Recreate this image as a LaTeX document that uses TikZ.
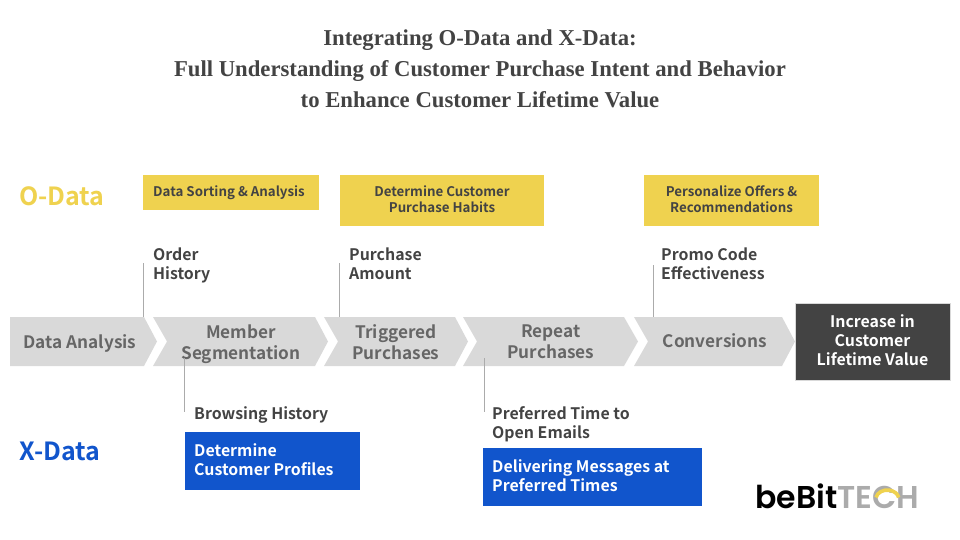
\documentclass[tikz,border=0pt]{standalone}
\usepackage{fontspec}
\setmainfont{Liberation Serif}
\newfontfamily\labelfont{Noto Sans CJK TC}[BoldFont=* Bold]
\newfontfamily\logofont{Poppins}[BoldFont=* SemiBold]
\definecolor{odatayellow}{HTML}{EFD24F}
\definecolor{xdatablue}{HTML}{1155CC}
\definecolor{chevrongray}{HTML}{D9D9D9}
\definecolor{chevrontext}{HTML}{666666}
\definecolor{darktext}{HTML}{434343}
\definecolor{leadergray}{HTML}{ABABAB}
\tikzset{
  stepfill/.style={fill=chevrongray, draw=none},
  steplabel/.style={font=\labelfont\bfseries\fontsize{17.2}{21}\selectfont, text=chevrontext, align=center, inner sep=0pt},
  yellowbox/.style={text=darktext, font=\labelfont\bfseries\fontsize{13.3}{16}\selectfont, align=center, inner sep=0pt},
  bluebox/.style={fill=xdatablue, inner sep=0pt, anchor=north west},
  datalabel/.style={font=\labelfont\bfseries\fontsize{15.9}{19}\selectfont, text=darktext, align=left, inner sep=0pt, anchor=west},
  leader/.style={draw=leadergray, line width=0.9pt},
  logotext/.style={font=\logofont\bfseries\fontsize{31.5}{32}\selectfont, inner sep=0pt, anchor=base west},
}
\begin{document}
\begin{tikzpicture}[x=1pt, y=-1pt]
  \useasboundingbox (0,0) rectangle (960,540);
  % Title
  \node[font=\bfseries\fontsize{22.7}{31}\selectfont, text=darktext, align=center, inner sep=0pt] (title) at (480,69)
    {Integrating O-Data and X-Data:\\ Full Understanding of Customer Purchase Intent and Behavior\\ to Enhance Customer Lifetime Value};
  % Row names
  \node[font=\labelfont\bfseries\fontsize{25}{30}\selectfont, text=odatayellow, inner sep=0pt] (odata) at (62,196) {O-Data};
  \node[font=\labelfont\bfseries\fontsize{25}{30}\selectfont, text=xdatablue, inner sep=0pt] (xdata) at (60,451) {X-Data};
  % Yellow boxes
  \node[fill=odatayellow, minimum width=176pt, minimum height=35pt, inner sep=0pt] (sorting) at (231,192.5) {};
  \node[fill=odatayellow, minimum width=204pt, minimum height=51pt, inner sep=0pt] (habits) at (442,200.5) {};
  \node[fill=odatayellow, minimum width=175pt, minimum height=51pt, inner sep=0pt] (offers) at (731.5,200.5) {};
  \node[yellowbox] (sortingtext) at (229,193) {Data Sorting \& Analysis};
  \node[yellowbox] (habitstext) at (442,199.5) {Determine Customer\\ Purchase Habits};
  \node[yellowbox] (offerstext) at (731.5,199.5) {Personalize Offers \&\\ Recommendations};
  % Steps
  \fill[stepfill] (10,317) -- (144,317) -- (157,341.5) -- (144,366) -- (10,366) -- cycle;
  \foreach \l/\n/\s/\t in {153/167/315/328, 324/338/455/468, 463/477/624/638, 634/648/782/795}
    \fill[stepfill] (\l,317) -- (\s,317) -- (\t,341.5) -- (\s,366) -- (\l,366) -- (\n,341.5) -- cycle;
  \node[steplabel] (analysis) at (80,343.5) {Data Analysis};
  \node[steplabel] (member) at (241,344) {Member\\ Segmentation};
  \node[steplabel] (triggered) at (396,342) {Triggered\\ Purchases};
  \node[steplabel] (repeat) at (551,341.5) {Repeat\\ Purchases};
  \node[steplabel] (conversions) at (715,341) {Conversions};
  \node[fill=darktext, draw=chevrongray, line width=0.5pt, minimum width=155pt, minimum height=77pt, inner sep=0pt] (value) at (872.5,341.5) {};
  \node[font=\labelfont\bfseries\fontsize{15.9}{19}\selectfont, text=white, inner sep=0pt, align=center] (valuetext) at (872.5,340.5) {Increase in\\ Customer\\ Lifetime Value};
  % O-Data labels
  \node[datalabel] (order) at (153,265) {Order\\ History};
  \node[datalabel] (amount) at (349,264) {Purchase\\ Amount};
  \node[datalabel] (promo) at (661,264) {Promo Code\\ Effectiveness};
  % X-Data labels
  \node[datalabel] (browsing) at (194,414.5) {Browsing History};
  \node[datalabel] (emails) at (492,424.5) {Preferred Time to\\ Open Emails};
  \node[bluebox, minimum width=175pt, minimum height=58pt] (profiles) at (185,432) {};
  \node[datalabel, text=white] (profilestext) at (194,460) {Determine\\ Customer Profiles};
  \node[bluebox, minimum width=219pt, minimum height=58pt] (messages) at (483,448) {};
  \node[datalabel, text=white] (messagestext) at (492,476) {Delivering Messages at\\ Preferred Times};
  % Leader lines
  \coordinate (ordertop) at (143,263);
  \coordinate (orderfoot) at (143,317);
  \coordinate (amounttop) at (339,263);
  \coordinate (amountfoot) at (339,317);
  \coordinate (promotop) at (653,265);
  \coordinate (promofoot) at (653,317);
  \coordinate (browsingtop) at (184,358);
  \coordinate (browsingfoot) at (184,412);
  \coordinate (emailstop) at (484,358);
  \coordinate (emailsfoot) at (484,412);
  \draw[leader] (ordertop) -- (orderfoot);
  \draw[leader] (amounttop) -- (amountfoot);
  \draw[leader] (promotop) -- (promofoot);
  \draw[leader] (browsingtop) -- (browsingfoot);
  \draw[leader] (emailstop) -- (emailsfoot);
  % Logo
  \node[logotext, text=black] (bebit) at (755,508) {beBit};
  \node[logotext, text=leadergray] (tech) at (bebit.base east) {TECH};
  \draw[odatayellow, line width=3.6pt] (876,497.5) arc[start angle=190, end angle=350, x radius=11.5, y radius=9];
\end{tikzpicture}
\end{document}
